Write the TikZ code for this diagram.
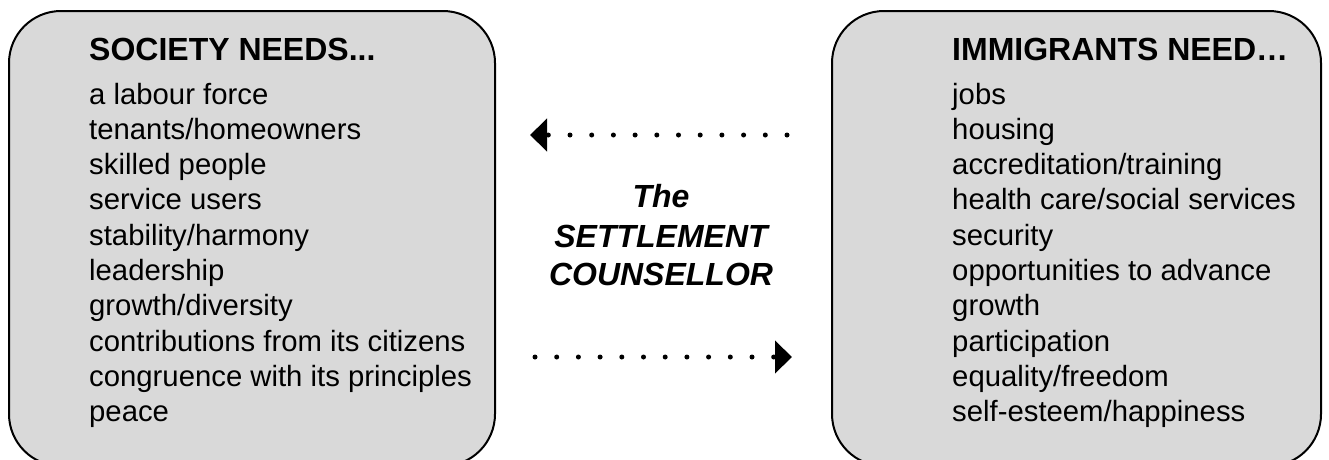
\documentclass[tikz,border=0pt]{standalone}
\usepackage{fontspec}
\setmainfont{Liberation Sans}
\usetikzlibrary{arrows.meta}
\definecolor{boxgray}{RGB}{217,217,217}
\tikzset{
  needbox/.style={draw=black, fill=boxgray, line width=2pt, rounded corners=52pt, inner sep=0pt, minimum width=#1, minimum height=455pt},
  titletext/.style={anchor=base west, inner sep=0pt, font=\fontsize{32}{38}\selectfont\bfseries},
  itemtext/.style={anchor=base west, inner sep=0pt, font=\fontsize{29.3}{35}\selectfont},
  centertext/.style={anchor=base, inner sep=0pt, font=\fontsize{32}{38}\selectfont\bfseries\itshape},
  dotarrow/.style={line width=5pt, line cap=round, dash pattern=on 0pt off 21.7pt, -{Triangle[length=17pt,width=32pt]}}
}
\begin{document}
\begin{tikzpicture}[x=1pt,y=-1pt]
\useasboundingbox (0,0) rectangle (1329,459);
\clip (0,0) rectangle (1329,459);
\node[needbox=486pt] (soc) at (252,238.5) {};
\node[needbox=489pt] (imm) at (1076.5,238.5) {};
\node[titletext] (soct) at (89,60) {SOCIETY NEEDS...};
\node[titletext] (immt) at (952,60) {IMMIGRANTS NEED…};
\foreach [count=\i from 0] \t in {a labour force, tenants/homeowners, skilled people, service users, stability/harmony, leadership, growth/diversity, contributions from its citizens, congruence with its principles, peace}
  \node[itemtext] (s\i) at (89,{104+35.3*\i}) {\t};
\foreach [count=\i from 0] \t in {jobs, housing, accreditation/training, health care/social services, security, opportunities to advance, growth, participation, equality/freedom, self-esteem/happiness}
  \node[itemtext] (m\i) at (952,{104+35.3*\i}) {\t};
\node[centertext] (c1) at (661,207) {The};
\node[centertext] (c2) at (661,247) {SETTLEMENT};
\node[centertext] (c3) at (661,285) {COUNSELLOR};
\coordinate (a1s) at (787,135);
\coordinate (a1e) at (530,135);
\coordinate (a2s) at (535,357);
\coordinate (a2e) at (792,357);
\draw[dotarrow] (a1s) -- (a1e);
\draw[dotarrow] (a2s) -- (a2e);
\end{tikzpicture}
\end{document}
